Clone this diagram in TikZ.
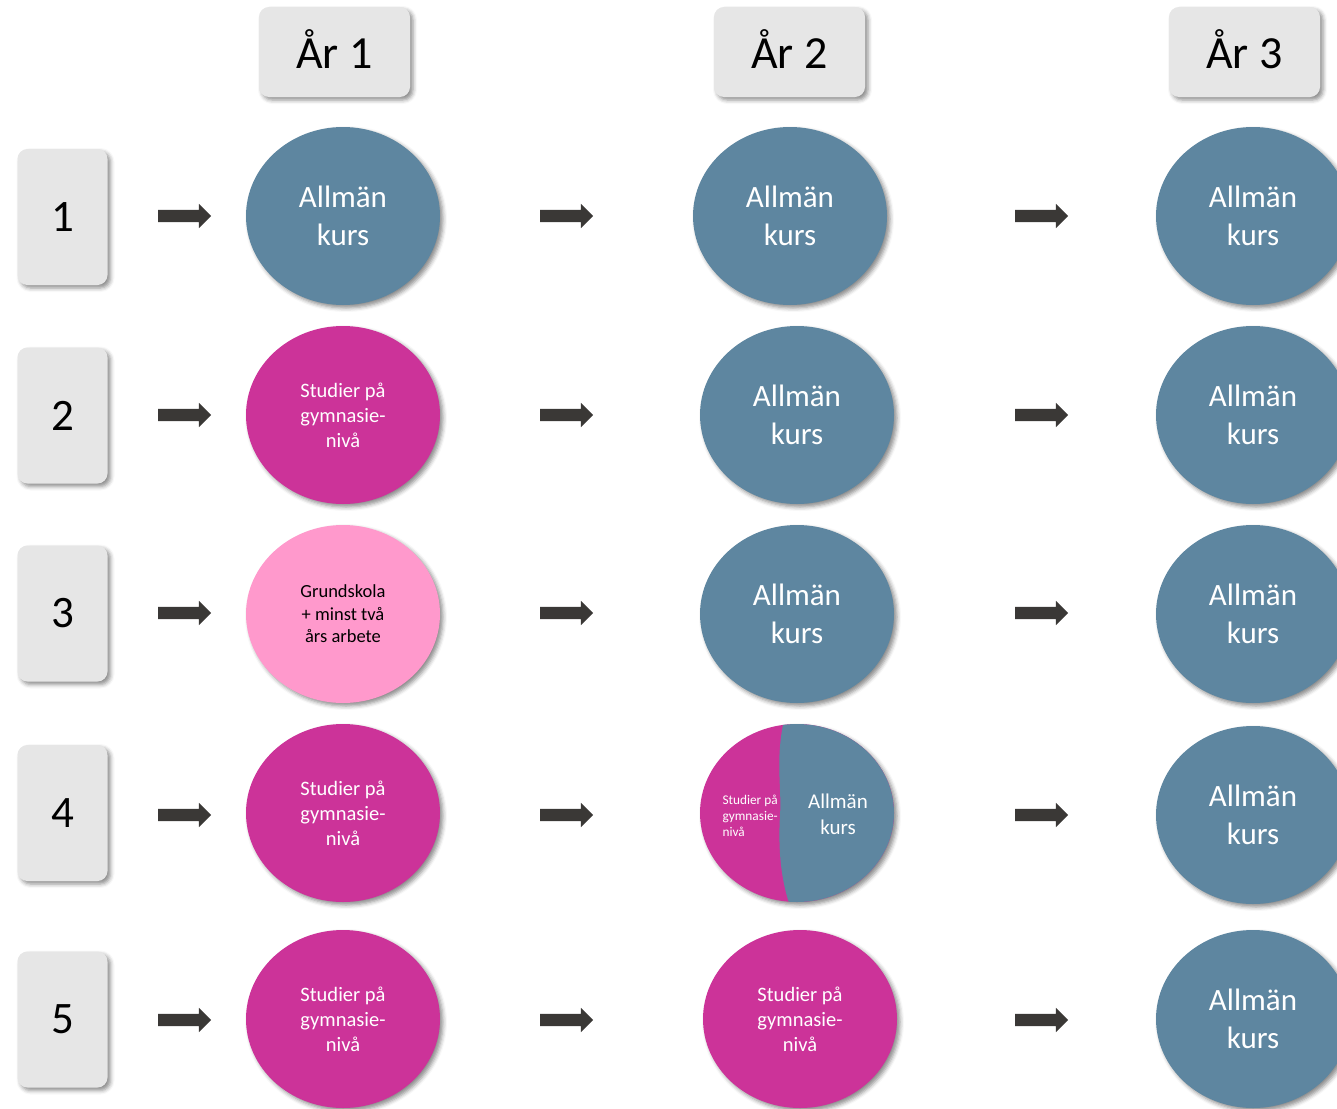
\documentclass[tikz,border=0pt]{standalone}
\usepackage{fontspec}
\setmainfont{Carlito}
\usetikzlibrary{shapes.geometric,shapes.arrows,shadows.blur}
\definecolor{kblue}{RGB}{94,134,160}
\definecolor{kmag}{RGB}{204,51,153}
\definecolor{kpink}{RGB}{255,153,204}
\definecolor{kgray}{RGB}{230,230,230}
\definecolor{karrow}{RGB}{58,56,54}
\begin{document}
\begin{tikzpicture}[x=1pt,y=-1pt,
  shad/.style={blur shadow={shadow xshift=3pt,shadow yshift=-3pt,shadow blur radius=4pt,shadow opacity=45}},
  yearbox/.style={rounded corners=10pt,fill=kgray,minimum width=151pt,minimum height=90pt,inner sep=0pt,shad,font=\fontsize{46}{55}\selectfont},
  numbox/.style={rounded corners=10pt,fill=kgray,minimum width=90pt,minimum height=136pt,inner sep=0pt,shad,font=\fontsize{45}{54}\selectfont},
  course/.style={ellipse,minimum width=194pt,minimum height=178pt,inner sep=0pt,align=center,text=white,shad},
  allm/.style={course,fill=kblue,font=\fontsize{31}{38}\selectfont},
  stud/.style={course,fill=kmag,font=\fontsize{20.5}{25}\selectfont},
  grund/.style={course,fill=kpink,text=black,font=\fontsize{18.5}{22.5}\selectfont},
  barrow/.style={single arrow,fill=karrow,inner xsep=0pt,inner ysep=6pt,single arrow head extend=6pt,minimum height=53pt,single arrow tip angle=90}
]
\useasboundingbox (0,0) rectangle (1337,1108);
\clip (0,0) rectangle (1337,1108);

% year headers
\node[yearbox] (y1) at (334.5,52) {\raisebox{-17pt}[0pt][0pt]{År 1}};
\node[yearbox] (y2) at (789.5,52) {\raisebox{-17pt}[0pt][0pt]{År 2}};
\node[yearbox] (y3) at (1244.5,52) {\raisebox{-17pt}[0pt][0pt]{År 3}};

% number boxes
\node[numbox] (n1) at (62.5,217) {1};
\node[numbox] (n2) at (62.5,415.5) {2};
\node[numbox] (n3) at (62.5,613.5) {3};
\node[numbox] (n4) at (62.5,813) {4};
\node[numbox] (n5) at (62.5,1019.5) {5};

% row 1
\node[allm] (e11) at (343,216) {Allmän\\kurs};
\node[allm] (e12) at (790,216) {Allmän\\kurs};
\node[allm] (e13) at (1253,216) {Allmän\\kurs};
% row 2
\node[stud] (e21) at (343,415) {Studier på\\gymnasie-\\nivå};
\node[allm] (e22) at (797,415) {Allmän\\kurs};
\node[allm] (e23) at (1253,415) {Allmän\\kurs};
% row 3
\node[grund] (e31) at (343,614) {Grundskola\\+ minst två\\års arbete};
\node[allm] (e32) at (797,614) {Allmän\\kurs};
\node[allm] (e33) at (1253,614) {Allmän\\kurs};
% row 4
\node[stud] (e41) at (343,813) {Studier på\\gymnasie-\\nivå};
\node[stud] (e42) at (797,813) {};
\begin{scope}
  \clip (797,813) ellipse (97pt and 89pt);
  \fill[kblue] (784,720) .. controls (775,760) and (782,790) .. (780,815)
     .. controls (778,850) and (781,880) .. (790,906) -- (900,906) -- (900,720) -- cycle;
\end{scope}
\node[anchor=west,align=left,text=white,font=\fontsize{13.3}{16}\selectfont] (t42a) at (719,816) {Studier på\\gymnasie-\\nivå};
\node[align=center,text=white,font=\fontsize{21}{26}\selectfont] (t42b) at (838,814) {Allmän\\kurs};
\node[allm] (e43) at (1253,815) {Allmän\\kurs};
% row 5
\node[stud] (e51) at (343,1019) {Studier på\\gymnasie-\\nivå};
\node[stud] (e52) at (800,1019) {Studier på\\gymnasie-\\nivå};
\node[allm] (e53) at (1253,1019) {Allmän\\kurs};

% arrows
\foreach \r/\y in {1/216,2/415,3/613,4/815,5/1020}{
  \node[barrow] (a\r1) at (181.5,\y) {};
  \node[barrow] (a\r2) at (563.5,\y) {};
  \node[barrow] (a\r3) at (1038.5,\y) {};
}
\end{tikzpicture}
\end{document}
